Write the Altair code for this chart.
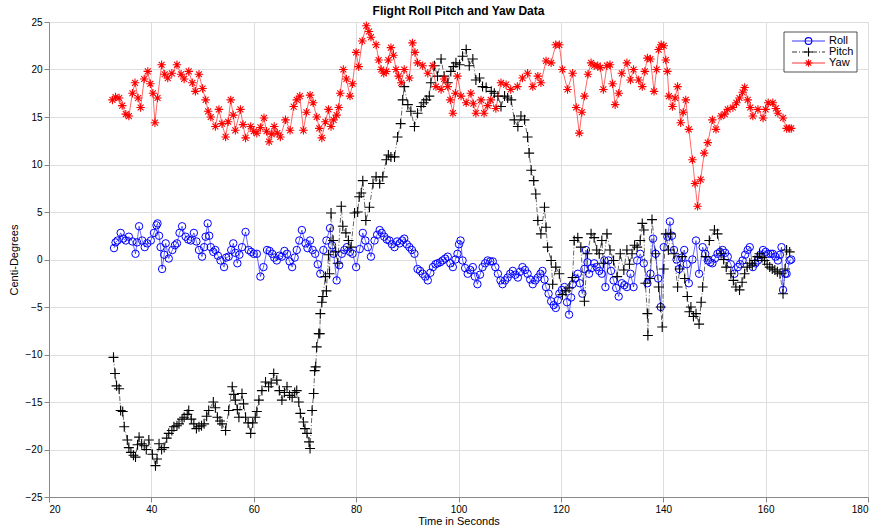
import altair as alt
import pandas as pd

# ---------------- data ----------------
roll_t = [32.7,33.0,33.4,34.0,34.5,35.0,35.6,36.3,36.9,37.2,37.6,38.2,38.7,39.2,39.9,40.5,41.0,41.2,41.5,41.8,
          42.1,42.5,42.8,43.4,44.1,44.6,45.0,45.5,46.0,46.7,47.2,47.7,48.3,48.8,49.3,49.9,50.3,50.6,51.0,51.3,
          51.6,52.1,52.5,53.0,53.5,54.2,54.6,55.1,55.6,56.0,56.4,56.8,57.2,57.7,58.4,59.0,59.5,60.0,60.6,61.3,
          61.9,62.6,63.1,63.6,64.0,64.5,65.0,65.5,66.0,66.5,67.0,67.5,68.0,68.4,68.9,69.4,70.1,70.5,71.0,71.5,
          72.0,72.5,73.0,73.6,74.2,74.9,75.3,75.6,76.2,76.7,77.2,77.7,78.2,78.8,79.3,80.0,80.7,81.3,81.8,82.3,
          82.9,83.6,84.1,84.6,85.0,85.5,86.0,86.5,87.0,87.5,88.0,88.5,89.0,89.4,89.9,90.4,90.9,91.4,92.0,92.5,
          93.0,93.5,94.0,94.5,95.0,95.5,95.9,96.4,96.9,97.4,97.9,98.4,98.9,99.4,99.8,100.1,100.4,100.8,101.3,101.8,
          102.3,102.8,103.2,103.7,104.2,104.7,105.2,105.7,106.2,106.7,107.2,107.7,108.2,108.6,109.1,109.6,110.1,110.6,111.1,111.6,
          112.0,112.5,113.0,113.5,114.0,114.5,115.0,115.5,116.0,116.4,116.8,117.1,117.6,118.1,118.6,119.0,119.4,119.7,120.2,120.7,
          121.2,121.6,122.0,122.3,122.8,123.3,123.7,124.2,124.6,124.9,125.2,125.5,126.0,126.5,127.0,127.5,128.0,128.5,128.7,129.3,
          129.8,130.3,130.8,131.3,131.9,132.4,132.9,133.6,134.2,134.9,135.5,136.2,136.9,137.5,138.0,138.5,139.0,139.5,140.1,140.8,
          141.3,141.7,142.1,142.6,143.1,143.6,144.1,144.6,145.0,145.7,146.4,147.0,147.7,148.2,148.7,149.2,149.6,150.1,150.6,151.1,
          151.6,152.1,152.6,153.2,153.9,154.6,155.0,155.5,156.0,156.5,156.9,157.5,158.0,158.5,159.0,159.5,160.0,160.5,161.0,161.4,
          161.9,162.4,162.8,163.1,163.4,163.8,164.1,164.7,165.0]
roll_v = [1.2,1.8,2.0,2.8,2.2,2.0,2.4,1.9,0.6,1.8,3.5,2.0,1.3,1.7,2.0,2.8,3.6,3.8,2.5,1.3,
          -1.0,0.5,1.7,0.1,1.0,1.5,1.7,2.8,3.5,2.4,2.1,2.0,2.8,1.9,1.0,0.3,1.3,2.4,3.8,2.5,
          1.3,0.8,1.0,0.4,-0.1,-0.8,0.2,0.3,1.0,1.7,0.7,-0.4,0.5,1.3,2.9,1.0,0.8,0.6,0.6,-1.8,
          -0.8,1.0,0.9,0.6,0.2,-0.1,0.4,0.3,0.9,0.6,-0.2,-0.8,0.2,1.0,2.0,3.1,1.7,1.2,2.0,1.0,
          0.6,-0.5,-1.5,1.0,2.0,3.3,1.5,0.6,-2.2,-0.6,0.6,1.0,1.3,0.8,0.6,-0.8,1.1,2.8,2.0,1.3,
          0.3,2.0,2.6,3.1,2.8,2.4,2.1,2.0,1.6,1.3,1.9,1.7,2.0,2.2,1.6,1.3,1.0,0.6,-1.0,-1.2,
          -1.5,-1.8,-2.2,-1.4,-0.8,-0.5,-0.4,-0.3,-0.1,0.1,0.3,-0.4,-0.8,0.0,0.6,1.6,2.0,-0.1,-0.9,-1.5,
          -1.1,-0.8,-1.8,-2.6,-1.6,-0.8,-0.4,-0.1,-0.2,-0.2,-0.8,-1.5,-2.2,-2.6,-2.2,-1.9,-1.5,-1.2,-1.6,-1.9,
          -1.3,-0.8,-1.1,-1.5,-2.1,-2.6,-2.2,-1.9,-1.5,-1.2,-2.1,-2.9,-3.6,-4.4,-4.8,-5.1,-4.3,-3.6,-3.2,-2.9,
          -4.5,-5.8,-4.0,-2.6,-2.0,-1.5,-2.5,-3.6,-1.0,1.0,-0.3,-1.5,-0.9,-0.4,-0.8,-1.2,-1.5,-0.1,-2.9,-0.1,
          -1.2,-2.2,-3.0,-3.9,-2.5,-2.7,-2.9,-1.5,-2.9,-0.1,0.6,-0.4,-2.5,-1.5,2.2,0.6,-2.0,-5.0,1.3,2.4,
          4.0,2.5,1.0,0.0,-1.0,0.2,1.0,-0.5,-2.5,0.0,2.0,-1.5,1.3,0.6,-0.1,-0.3,-0.4,0.1,0.6,0.8,
          1.0,0.7,0.3,-0.5,-1.5,-0.8,-0.5,-0.1,0.5,1.0,1.3,-0.8,-0.4,-0.1,0.5,1.0,0.8,0.6,0.6,0.6,
          0.3,-0.1,0.5,1.3,-3.2,-1.5,-1.5,-0.1,0.0]

pitch_t = [32.6,32.9,33.2,33.7,34.0,34.4,34.7,35.3,35.6,36.0,36.5,36.9,37.3,37.6,38.1,38.6,39.0,39.5,40.2,40.8,
           41.1,41.5,42.0,42.5,43.0,43.4,44.0,44.4,45.0,45.4,46.0,46.4,47.0,47.3,47.8,48.3,48.8,49.3,49.8,50.3,
           50.8,51.2,52.1,52.5,52.9,53.4,53.8,54.5,55.1,55.8,56.1,56.4,56.8,57.1,57.7,58.0,58.4,58.9,59.4,59.8,
           60.3,60.6,61.0,61.6,62.3,62.9,63.4,63.9,64.5,65.0,65.5,66.0,66.5,67.0,67.5,68.0,68.4,68.8,69.1,69.7,
           70.0,70.4,70.8,71.0,71.4,71.7,71.9,72.1,72.3,72.7,72.9,73.0,73.3,73.5,74.0,74.2,74.6,74.8,75.1,75.5,
           76.0,76.4,77.1,77.4,78.0,78.5,79.0,79.7,80.3,80.6,81.0,81.3,81.9,82.6,83.3,83.9,84.6,85.2,85.9,86.3,
           86.8,87.5,88.1,88.7,89.1,89.4,90.1,90.7,91.4,92.0,92.7,93.2,93.7,94.3,94.6,95.3,95.9,96.6,97.2,97.9,
           98.5,99.0,99.5,100.2,100.8,101.5,102.1,102.8,103.4,104.1,104.7,105.4,106.4,107.0,107.7,108.3,109.0,109.6,110.3,110.9,
           111.6,112.2,112.9,113.5,113.8,114.2,114.7,115.1,115.5,116.1,116.8,117.1,117.4,118.1,118.4,119.0,119.7,120.3,121.0,121.6,
           122.3,122.6,123.3,123.9,124.6,125.2,125.9,126.5,127.0,127.5,128.0,128.3,129.0,129.6,130.3,131.0,131.6,132.3,132.9,133.4,
           133.9,134.4,134.9,135.5,135.9,136.2,136.5,136.9,137.0,137.4,137.8,138.5,139.1,139.5,139.8,140.1,140.5,141.0,141.4,142.1,
           142.8,143.2,143.7,144.2,144.7,145.1,145.4,145.9,146.4,147.0,147.4,147.7,148.3,149.0,150.0,150.6,151.3,151.8,152.3,153.2,
           153.7,154.2,154.9,155.4,155.9,156.4,156.9,157.4,157.9,158.4,158.8,159.3,159.8,160.3,160.8,161.3,161.8,162.3,162.8,163.4,
           163.8,164.1,164.7]
pitch_v = [-10.3,-12.0,-13.3,-13.6,-15.9,-16.0,-17.6,-19.0,-19.8,-20.3,-20.6,-20.8,-19.5,-18.7,-19.4,-19.6,-20.0,-19.0,-20.5,-21.7,
           -21.0,-19.4,-20.0,-19.8,-18.8,-18.3,-18.0,-17.6,-17.5,-17.3,-16.8,-16.6,-16.3,-15.9,-16.8,-17.3,-17.8,-17.6,-17.5,-17.3,
           -16.5,-15.9,-15.0,-15.6,-16.6,-17.0,-17.3,-18.0,-15.9,-13.4,-14.2,-14.8,-15.8,-16.6,-14.1,-15.2,-16.6,-17.2,-18.3,-17.2,
           -16.6,-16.0,-14.8,-13.8,-12.9,-13.4,-13.0,-12.0,-12.7,-13.8,-14.8,-14.0,-13.4,-14.3,-14.5,-14.0,-13.8,-15.0,-16.2,-17.1,
           -17.8,-18.3,-19.2,-19.9,-15.9,-14.1,-11.7,-11.3,-9.2,-7.8,-7.8,-5.7,-4.5,-3.9,-1.8,-3.3,0.5,-1.5,4.9,2.0,
           0.8,-0.4,5.6,3.5,2.8,2.0,1.3,4.9,5.0,6.6,7.0,8.3,4.1,5.5,8.0,8.7,8.0,8.7,10.5,11.0,
           10.8,10.8,12.9,14.3,16.8,18.2,16.3,15.6,14.0,15.4,16.1,16.5,16.8,17.2,18.6,20.4,19.3,21.1,19.3,18.6,
           19.8,20.3,20.7,20.5,21.4,22.1,20.4,21.1,18.9,19.1,18.2,18.1,17.7,17.5,17.2,16.1,17.2,17.0,16.8,14.7,
           14.0,15.1,14.7,12.9,11.2,9.4,8.3,6.9,4.1,2.7,5.5,3.4,1.3,-0.1,-2.6,-0.8,-1.5,-3.7,-3.3,-3.0,
           -1.9,2.0,2.3,1.3,-4.4,0.6,2.7,2.3,1.0,0.6,2.0,-0.4,2.7,1.0,-0.1,-1.8,0.6,-1.1,1.0,-0.5,
           0.6,1.5,1.3,2.0,3.8,3.1,-2.5,-5.7,-8.0,-2.0,4.2,0.6,-2.9,-5.0,-7.1,-1.0,2.7,1.0,2.7,0.6,
           -2.9,-1.0,0.3,-2.0,-3.9,-5.5,-5.0,-6.0,-5.7,-6.8,-4.5,-2.9,0.3,2.0,3.1,2.7,0.6,0.0,-0.8,-1.5,
           -2.2,-2.9,-3.2,-2.4,-1.5,-0.8,-0.4,-0.6,-0.1,0.3,0.6,0.2,-0.1,-0.5,-0.8,-1.0,-1.1,-1.3,-1.5,-3.6,
           -1.0,1.0,0.8]

yaw_t = [32.4,33.0,33.7,34.3,35.0,35.6,36.3,36.8,37.4,37.9,38.6,39.3,39.8,40.3,40.7,41.2,42.0,42.6,43.2,44.0,
         45.0,45.8,46.4,47.3,48.0,48.6,49.3,50.0,50.6,51.1,51.6,52.5,53.2,53.8,54.5,55.0,55.5,56.0,56.4,57.4,
         57.9,58.4,59.4,60.0,60.6,61.3,62.0,62.5,63.0,63.5,64.0,64.6,65.2,66.2,67.1,67.8,68.4,69.0,69.7,70.3,
         71.0,71.6,72.3,72.8,73.3,74.0,74.6,75.1,75.6,76.2,76.6,76.9,77.5,78.1,78.8,79.3,80.0,80.5,81.2,82.0,
         82.5,82.9,83.9,84.4,84.9,85.4,85.9,86.3,86.8,87.3,87.8,88.3,88.8,89.4,90.4,91.0,91.5,92.0,93.0,94.0,
         95.0,95.6,96.6,97.2,97.9,98.4,98.9,99.4,99.8,100.5,101.5,102.4,102.9,103.4,104.4,105.0,105.7,106.3,107.3,108.3,
         109.3,110.2,111.5,112.5,113.5,114.5,115.5,116.1,117.1,118.1,119.0,119.7,120.3,121.3,122.3,123.0,123.6,124.1,124.6,125.3,
         125.9,126.5,127.2,127.7,128.3,129.0,129.6,130.1,130.6,131.3,131.9,132.9,133.6,134.2,135.2,135.9,136.4,136.9,137.5,138.2,
         138.7,139.1,139.6,140.1,140.5,140.8,141.1,141.8,142.3,142.8,143.4,143.9,144.4,145.0,145.7,146.2,146.7,147.3,148.0,148.7,
         149.6,150.3,151.3,152.0,152.6,153.6,154.3,154.9,155.5,155.9,156.5,157.0,157.5,158.5,159.5,160.0,160.5,161.4,162.0,162.4,
         163.4,164.1,164.6,165.0]
yaw_v = [16.8,17.1,17.0,16.2,15.3,15.1,17.5,18.6,17.0,16.0,19.0,19.8,18.5,17.5,14.4,17.0,20.5,19.5,19.1,19.6,
         20.5,19.5,19.0,19.8,18.6,17.7,19.5,18.0,16.8,15.6,15.0,14.0,15.8,14.3,12.9,14.5,16.8,15.2,13.6,15.8,
         14.2,12.8,14.0,13.5,13.3,13.9,14.9,13.5,12.4,13.2,14.0,13.3,12.9,14.7,13.6,16.1,16.8,17.2,13.6,15.5,
         17.3,16.5,15.0,13.8,12.8,14.5,15.8,14.0,14.7,15.2,16.0,17.5,20.0,19.0,17.2,18.5,21.8,20.3,23.0,24.6,
         24.0,23.4,22.6,21.0,20.0,19.6,19.8,21.0,22.3,21.5,20.0,19.3,18.6,20.0,19.1,22.8,21.8,20.7,20.4,19.6,
         20.4,18.2,17.9,19.0,18.2,16.8,15.4,17.5,19.3,17.2,16.5,17.5,16.4,15.4,16.8,15.4,16.2,16.8,15.9,18.6,
         18.4,17.9,18.2,19.1,19.6,18.2,19.3,18.6,20.9,20.7,22.6,22.6,20.0,17.9,19.6,16.0,13.3,15.5,17.2,19.5,
         20.7,20.4,20.4,20.2,17.9,20.4,20.5,18.5,16.3,17.5,19.6,20.7,18.9,20.0,18.9,18.2,19.8,21.2,21.1,17.7,
         20.0,22.1,22.6,22.5,21.0,19.8,17.2,16.1,17.0,18.2,14.4,15.5,16.8,13.7,10.5,8.0,5.6,8.4,11.2,12.3,
         14.7,13.7,15.1,15.3,15.8,16.0,16.5,17.0,17.6,18.1,16.8,16.0,15.1,15.8,14.9,15.8,16.5,16.5,15.9,15.4,
         14.9,13.8,13.8,13.8]

series_names = ["Roll", "Pitch", "Yaw"]
x_ticks = [20, 40, 60, 80, 100, 120, 140, 160, 180]
y_ticks = [-25, -20, -15, -10, -5, 0, 5, 10, 15, 20, 25]

roll_df = pd.DataFrame({"t": roll_t, "v": roll_v, "series": "Roll"})
pitch_df = pd.DataFrame({"t": pitch_t, "v": pitch_v, "series": "Pitch"})
yaw_df = pd.DataFrame({"t": yaw_t, "v": yaw_v, "series": "Yaw"})

FONT = "Liberation Sans Narrow, Liberation Sans"
PLUS = "M-1,0L1,0M0,-1L0,1"
STAR = "M-1,0L1,0M0,-1L0,1M-0.7,-0.7L0.7,0.7M-0.7,0.7L0.7,-0.7"

x_enc = alt.X("t:Q", scale=alt.Scale(domain=[20, 180], nice=False),
              axis=alt.Axis(values=x_ticks, title="Time in Seconds", titleFontWeight=400,
                            titlePadding=1))
y_enc = alt.Y("v:Q", scale=alt.Scale(domain=[-25, 25], nice=False),
              axis=alt.Axis(values=y_ticks, title="Centi-Degrees", titleFontWeight=400,
                            titlePadding=6))
order = alt.Order("t:Q")

def series_layers(df, color, shape, size, sw, dash=None):
    line_kw = dict(color=color, strokeWidth=0.6)
    if dash:
        line_kw["strokeDash"] = dash
    line = alt.Chart(df).mark_line(**line_kw).encode(x=x_enc, y=y_enc, order=order)
    pts = alt.Chart(df).mark_point(shape=shape, filled=False, color=color, size=size,
                                   strokeWidth=sw, opacity=1).encode(x=x_enc, y=y_enc)
    return [line, pts]

layers = []
layers += series_layers(roll_df, "#0000ff", "circle", 55, 1.0)
layers += series_layers(pitch_df, "#000000", PLUS, 100, 1.1, dash=[5, 2, 1, 2])
layers += series_layers(yaw_df, "#ff0000", STAR, 72, 1.1)

# ---------------- legend (top-right box) ----------------
one = pd.DataFrame({"k": [0]})
layers.append(alt.Chart(one).mark_rect(fill="white", stroke="#262626", strokeWidth=0.8).encode(
    x=alt.value(735), x2=alt.value(808), y=alt.value(10), y2=alt.value(50)))
leg_styles = [("#0000ff", "circle", 45, None, 19),
              ("#000000", PLUS, 80, [5, 2, 1, 2], 30),
              ("#ff0000", STAR, 60, None, 41)]
for name, (col, shp, sz, dash, yy) in zip(series_names, leg_styles):
    rk = dict(color=col, strokeWidth=0.8)
    if dash:
        rk["strokeDash"] = dash
    layers.append(alt.Chart(one).mark_rule(**rk).encode(
        x=alt.value(743), x2=alt.value(776), y=alt.value(yy)))
    layers.append(alt.Chart(one).mark_point(shape=shp, filled=False, color=col, size=sz,
                                            strokeWidth=1.1, opacity=1).encode(
        x=alt.value(759.5), y=alt.value(yy)))
    layers.append(alt.Chart(pd.DataFrame({"label": [name]})).mark_text(
        align="left", baseline="middle", font=FONT, fontSize=11, color="#000000").encode(
        x=alt.value(780), y=alt.value(yy), text="label:N"))

chart = alt.layer(*layers).properties(
    width=819, height=475,
    autosize=alt.AutoSizeParams(type="none"),
    padding={"left": 49, "top": 22, "right": 10, "bottom": 32},
    title=alt.TitleParams("Flight Roll Pitch and Yaw Data", font=FONT, fontSize=12,
                          fontWeight="bold", color="#000000", offset=4, dy=5, anchor="middle"),
).configure_view(stroke="#262626", strokeWidth=0.8).configure_axis(
    labelFont=FONT, labelFontSize=11, labelColor="#262626",
    titleFont=FONT, titleFontSize=12, titleFontWeight=400, titleColor="#262626",
    gridColor="#e3e3e3", gridWidth=0.8, domainColor="#262626", domainWidth=0.8,
    ticks=False, labelPadding=6,
).configure(background="white")

chart.save("out.html", embed_options={"renderer": "svg", "actions": False})
